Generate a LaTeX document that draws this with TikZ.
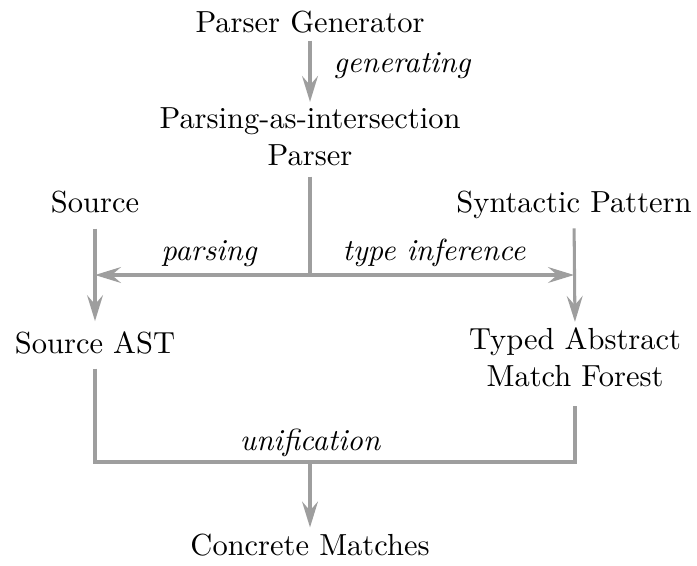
\documentclass[tikz,border=0pt]{standalone}
\usetikzlibrary{arrows.meta,calc}
\definecolor{linegray}{RGB}{158,158,158}
\begin{document}
\begin{tikzpicture}[x=0.328pt,y=-0.328pt,
  lbl/.style={inner sep=0pt,outer sep=0pt,anchor=base,align=center},
  mlbl/.style={inner sep=0pt,outer sep=0pt,anchor=north,align=center},
  edgelbl/.style={inner sep=0pt,outer sep=0pt,anchor=base,font=\itshape},
  ln/.style={draw=linegray,line width=1pt},
  arr/.style={ln,-{Stealth[length=8.5pt,width=5.2pt,inset=3pt]}}]
\useasboundingbox (0,0) rectangle (697,565);
% nodes
\node[lbl] (pg) at (310,32) {Parser Generator};
\node[mlbl] (pai) at (310,108) {Parsing-as-intersection\\Parser};
\node[lbl] (src) at (95,212) {Source};
\node[lbl] (sp) at (574,212) {Syntactic Pattern};
\node[lbl] (sast) at (95,353) {Source AST};
\node[mlbl] (tamf) at (575,328) {Typed Abstract\\Match Forest};
\node[lbl] (cm) at (310,555) {Concrete Matches};
% edge labels
\node[edgelbl] (lgen) at (402,72) {generating};
\node[edgelbl] (lpars) at (209,260) {parsing};
\node[edgelbl] (ltype) at (434,260) {type inference};
\node[edgelbl] (lunif) at (310,450) {unification};
% junctions
\coordinate (J) at (310,275);
\coordinate (L) at (95,275);
\coordinate (R) at (574,275);
\coordinate (BL) at (95,462);
\coordinate (BR) at (575,462);
\coordinate (BM) at (310,462);
% connectors
\draw[arr,shorten <=2.6pt,shorten >=2pt] (pg.south) -- (pai.north);
\draw[ln,shorten <=3.6pt] (pai.south) -- (J);
\draw[arr] (J) -- (L);
\draw[arr] (J) -- (R);
\draw[arr,shorten <=5.2pt,shorten >=3.3pt] (src.south) -- (sast.north);
\draw[arr,shorten <=3.3pt,shorten >=2pt] (sp.south) -- (tamf.north);
\draw[ln,shorten <=4.9pt,shorten >=6.3pt] (sast.south) -- (BL) -- (BR) -- (tamf.south);
\draw[arr,shorten >=2pt] (BM) -- (cm.north);
\end{tikzpicture}
\end{document}
